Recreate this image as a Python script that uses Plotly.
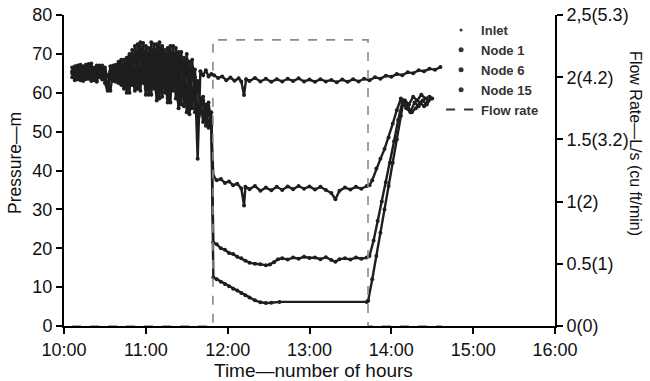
import plotly.graph_objects as go

# ---- data (time in minutes after 10:00) ----
t_pre = [6, 8, 10, 12, 14, 16, 18, 20, 22, 24, 26, 28, 30, 32, 34, 36, 38, 40, 42, 44,
         46, 48, 50, 52, 54, 56, 58, 60, 62, 64, 66, 68, 70, 72, 74, 76, 78, 80, 82, 84,
         86, 88, 90, 92, 94, 96, 98, 100, 102, 104, 106, 108]

inlet_pre = [65.5, 64.8, 66.2, 65.0, 66.0, 64.6, 65.8, 65.2, 66.4, 64.8,
             65.6, 64.4, 65.9, 64.2, 65.5, 64.8, 66.1, 65.0, 66.4, 64.6,
             67.0, 64.0, 68.0, 63.5, 69.0, 64.5, 70.5, 63.0, 68.5, 65.5,
             71.0, 63.5, 69.5, 64.0, 70.0, 62.5, 68.0, 65.0, 69.5, 62.0,
             67.5, 64.5, 68.5, 62.5, 66.5, 64.0, 43.0, 65.5, 64.5, 65.8,
             64.2, 64.8]
node1_pre = [64.0, 66.8, 63.5, 66.5, 64.2, 67.2, 63.6, 66.0, 63.2, 67.0,
             64.0, 66.5, 62.5, 60.5, 66.8, 63.0, 67.2, 62.5, 68.5, 61.5,
             69.0, 60.0, 71.0, 61.5, 72.5, 60.5, 72.8, 61.0, 71.5, 59.5,
             72.5, 60.0, 73.0, 59.0, 71.0, 58.5, 72.0, 60.5, 71.5, 58.0,
             70.5, 56.5, 70.0, 57.0, 68.5, 55.0, 63.0, 56.5, 58.0, 53.0,
             57.5, 51.5]
node6_pre = [66.5, 63.8, 67.0, 63.2, 66.8, 63.5, 67.4, 63.0, 66.2, 62.8,
             67.0, 63.4, 66.5, 61.0, 64.0, 67.0, 62.8, 67.5, 62.0, 68.5,
             60.0, 69.5, 62.0, 72.0, 61.0, 73.0, 62.5, 72.0, 59.5, 73.0,
             61.0, 72.5, 58.5, 72.0, 60.0, 71.5, 57.5, 72.0, 58.5, 70.5,
             57.0, 69.0, 55.0, 68.0, 56.0, 66.0, 54.0, 58.5, 52.5, 57.0,
             51.0, 55.0]
node15_pre = [65.0, 63.2, 65.5, 67.2, 63.0, 65.8, 64.0, 67.5, 64.5, 63.0,
              66.0, 67.0, 64.0, 62.0, 60.5, 65.5, 64.0, 68.0, 64.5, 61.0,
              66.5, 70.0, 65.0, 60.5, 67.0, 70.5, 66.0, 59.5, 64.5, 70.5,
              65.5, 58.0, 63.5, 71.5, 64.5, 57.5, 63.0, 70.0, 63.5, 56.0,
              61.0, 67.0, 59.5, 54.5, 60.5, 62.5, 52.0, 55.0, 59.0, 51.5,
              55.5, 52.5]

inlet_t = [110, 113, 116, 119, 122, 125, 128, 130, 132, 133.5, 136, 140, 144, 148, 152,
           156, 160, 164, 168, 172, 176, 180, 184, 188, 192, 196, 200, 204, 208, 212,
           216, 220, 224, 228, 232, 236, 240, 244, 248, 252, 256, 260, 264, 268, 272, 276]
inlet_v = [64.5, 63.8, 64.2, 63.2, 63.9, 63.1, 63.7, 62.9, 59.4, 63.5, 63.0, 63.8, 62.9,
           63.6, 62.8, 63.5, 62.9, 63.6, 63.0, 63.7, 62.9, 63.4, 62.8, 63.5, 62.9, 63.3,
           62.7, 63.4, 62.8, 63.5, 62.9, 63.6, 63.2, 64.0, 63.6, 64.4, 64.1, 64.8, 64.5,
           65.3, 65.0, 65.8, 65.5, 66.2, 65.9, 66.6]

node1_t = [109.5, 112, 115, 118, 121, 124, 127, 130, 132, 133, 136, 140, 144, 148, 152,
           156, 160, 164, 168, 172, 176, 180, 184, 188, 192, 196, 199, 202, 206, 210,
           214, 218, 222, 224, 226, 229, 232, 235, 238, 241, 244, 247, 250, 253, 256,
           259, 262, 265, 268, 270]
node1_v = [38.5, 37.5, 37.8, 36.8, 37.2, 36.2, 36.6, 35.4, 31.0, 35.8, 35.2, 36.0, 34.8,
           35.6, 34.9, 35.8, 35.0, 35.9, 35.2, 36.0, 35.3, 35.9, 35.1, 35.8, 35.0, 34.2,
           32.6, 34.8, 35.6, 35.1, 35.8, 35.3, 36.0, 36.2, 37.5, 40.5, 43.0, 45.5, 48.5,
           52.0, 55.5, 58.5, 58.0, 57.0, 59.0, 58.0, 59.5, 58.5, 59.0, 58.5]

node6_t = [109.5, 112, 115, 118, 121, 124, 127, 130, 133, 136, 140, 144, 148, 151, 154,
           157, 160, 164, 168, 172, 176, 180, 184, 188, 192, 196, 199, 202, 206, 210,
           214, 218, 222, 224, 227, 230, 233, 236, 239, 242, 245, 248, 251, 254, 257,
           260, 263, 266, 269]
node6_v = [21.5, 21.0, 20.0, 19.6, 18.8, 18.5, 17.8, 17.4, 16.8, 16.3, 16.0, 15.9, 15.6,
           15.8, 16.4, 17.2, 17.4, 17.1, 17.6, 17.3, 17.8, 17.5, 17.6, 17.2, 17.7, 17.0,
           16.5, 17.2, 17.4, 17.1, 17.6, 17.3, 17.6, 18.0, 22.0, 27.0, 32.0, 37.0, 42.0,
           47.5, 53.0, 57.5, 56.0, 55.0, 57.5, 56.5, 58.0, 57.0, 58.5]

node15_t = [109.5, 112, 115, 118, 121, 124, 127, 130, 133, 136, 140, 144, 148, 152, 158,
            222, 223, 226, 229, 232, 235, 238, 241, 244, 247, 249, 252, 255, 258, 261,
            264, 267]
node15_v = [12.5, 12.0, 11.4, 10.8, 10.2, 9.6, 9.1, 8.5, 7.9, 7.3, 6.6, 6.1, 5.9, 6.0, 6.2,
            6.2, 6.5, 12.0, 18.0, 24.0, 30.0, 36.0, 42.0, 48.0, 54.0, 58.0, 56.5, 55.0,
            56.0, 57.5, 56.5, 58.0]

flow_t = [6, 109.2, 109.2, 222.9, 222.9, 277]
flow_v = [0, 0, 2.3, 2.3, 0, 0]

x_ticks = [10, 11, 12, 13, 14, 15, 16]
x_labels = ["10:00", "11:00", "12:00", "13:00", "14:00", "15:00", "16:00"]
y_ticks = [0, 10, 20, 30, 40, 50, 60, 70, 80]
y2_ticks = [0, 0.5, 1, 1.5, 2, 2.5]
y2_labels = ["0(0)", "0.5(1)", "1(2)", "1.5(3.2)", "2(4.2)", "2,5(5.3)"]


def hrs(ms):
    return [10 + m / 60.0 for m in ms]


FONT = "Liberation Sans, Arial, Helvetica, sans-serif"
INK = "#1e1e1e"

fig = go.Figure()

series = [
    ("Inlet", t_pre + inlet_t, inlet_pre + inlet_v),
    ("Node 1", t_pre + node1_t, node1_pre + node1_v),
    ("Node 6", t_pre + node6_t, node6_pre + node6_v),
    ("Node 15", t_pre + node15_t, node15_pre + node15_v),
]

# flow rate (secondary axis)
fig.add_trace(go.Scatter(x=hrs(flow_t), y=flow_v, yaxis="y2", mode="lines",
                         line=dict(color="#8a8a8a", width=1.6, dash="dash"),
                         showlegend=False, hoverinfo="skip"))

for name, t, v in series:
    fig.add_trace(go.Scatter(x=hrs(t), y=v, mode="lines+markers",
                             line=dict(color=INK, width=2.4),
                             marker=dict(color=INK, size=4),
                             showlegend=False, name=name))

# legend entries
leg_sizes = {"Inlet": 3, "Node 1": 5, "Node 6": 5, "Node 15": 5}
for name, _, _ in series:
    fig.add_trace(go.Scatter(x=[None], y=[None], mode="markers", name=name,
                             marker=dict(color="#333", size=leg_sizes[name])))
fig.add_trace(go.Scatter(x=[None], y=[None], mode="lines", name="Flow rate",
                         line=dict(color="#333", width=2, dash="dash")))

axis_common = dict(showgrid=False, zeroline=False, showline=True, linecolor="black",
                   linewidth=2, ticks="outside", ticklen=6, tickwidth=1.5,
                   tickcolor="black", automargin=False,
                   tickfont=dict(family=FONT, size=18, color="#111"))

fig.update_layout(
    width=650, height=381,
    margin=dict(l=64, r=95, t=15, b=55, autoexpand=False),
    paper_bgcolor="white", plot_bgcolor="white",
    xaxis=dict(range=[10, 16], tickvals=x_ticks, ticktext=x_labels, **axis_common),
    yaxis=dict(range=[0, 80], tickvals=y_ticks, **axis_common),
    yaxis2=dict(range=[0, 2.5], overlaying="y", side="right", tickvals=y2_ticks,
                ticktext=y2_labels, **axis_common),
    legend=dict(x=0.768, y=1.0, xanchor="left", yanchor="top",
                bgcolor="rgba(0,0,0,0)",
                font=dict(family=FONT, size=13, color="#333", weight="bold"),
                tracegroupgap=0),
    annotations=[
        dict(text="Pressure—m", xref="paper", yref="paper", x=-0.0998, y=0.524,
             xanchor="center", yanchor="middle", textangle=-90, showarrow=False,
             font=dict(family=FONT, size=17.5, color="#111")),
        dict(text="Flow Rate—L/s (cu ft/min)", xref="paper", yref="paper", x=1.165, y=0.588,
             xanchor="center", yanchor="middle", textangle=90, showarrow=False,
             font=dict(family=FONT, size=16, color="#111")),
        dict(text="Time—number of hours", xref="paper", yref="paper", x=0.509, y=-0.1415,
             xanchor="center", yanchor="middle", showarrow=False,
             font=dict(family=FONT, size=19, color="#111")),
    ],
)

fig.write_html("out.html", config={"displayModeBar": False},
               post_script="document.body.style.margin='0px';")
